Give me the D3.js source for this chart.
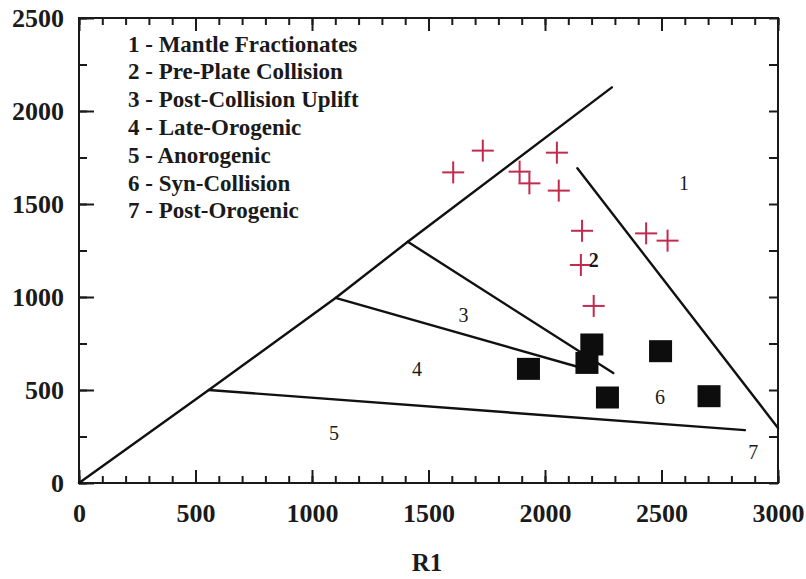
<!DOCTYPE html>
<html>
<head>
<meta charset="utf-8">
<script src="https://cdn.jsdelivr.net/npm/d3@7"></script>
<style>
  html, body { margin: 0; padding: 0; background: #ffffff; }
  svg { display: block; }
  text { font-family: "Liberation Serif", "Times New Roman", serif; font-weight: bold; fill: #1a1a1a; }
</style>
</head>
<body>
<svg id="chart" width="806" height="579"></svg>
<script>
// ---------- data ----------
const xTickValues = [0, 500, 1000, 1500, 2000, 2500, 3000];
const yTickValues = [0, 500, 1000, 1500, 2000, 2500];
const xAxisTitle = "R1";

const legendItems = [
  "1 - Mantle Fractionates",
  "2 - Pre-Plate Collision",
  "3 - Post-Collision Uplift",
  "4 - Late-Orogenic",
  "5 - Anorogenic",
  "6 - Syn-Collision",
  "7 - Post-Orogenic"
];

// red crosses
const crossR1 = [1606, 1733, 2051, 1891, 1933, 2059, 2159, 2434, 2526, 2154, 2209];
const crossR2 = [1670, 1787, 1776, 1674, 1611, 1572, 1356, 1342, 1303, 1172, 952];

// black squares
const squareR1 = [1929, 2201, 2180, 2268, 2496, 2704];
const squareR2 = [611, 742, 643, 457, 706, 464];

// field boundaries
const diagonalLine = [[0, 0], [557, 500], [1101, 995], [1411, 1297], [2287, 2127]];
const line45 = [[557, 500], [2858, 284]];
const line34 = [[1101, 995], [2215, 598]];
const line23 = [[1411, 1297], [2293, 591]];
const line12 = [[2139, 1692], [3000, 296]];

// field numbers
const fieldLabels = ["1", "2", "3", "4", "5", "6", "7"];
const fieldR1 = [2597, 2209, 1650, 1451, 1094, 2494, 2894];
const fieldR2 = [1611, 1199, 903, 611, 267, 461, 168];

// ---------- drawing ----------
const svg = d3.select("#chart");
const x = d3.scaleLinear().domain([0, 3000]).range([79, 778]);
const y = d3.scaleLinear().domain([0, 2500]).range([483, 18]);

const axisColor = "#1a1a1a";

function styleAxis(g) {
  g.select(".domain").remove();
  g.selectAll("line").attr("stroke", axisColor).attr("stroke-width", 2);
}

// minor ticks
svg.append("g").attr("transform", `translate(0,${y(0)})`)
  .call(d3.axisBottom(x).tickValues(d3.range(0, 3001, 100)).tickSize(-7).tickFormat(""))
  .call(styleAxis);
svg.append("g").attr("transform", `translate(0,${y(2500)})`)
  .call(d3.axisTop(x).tickValues(d3.range(0, 3001, 100)).tickSize(-7).tickFormat(""))
  .call(styleAxis);
svg.append("g").attr("transform", `translate(${x(0)},0)`)
  .call(d3.axisLeft(y).tickValues(d3.range(0, 2501, 250)).tickSize(-8).tickFormat(""))
  .call(styleAxis);
svg.append("g").attr("transform", `translate(${x(3000)},0)`)
  .call(d3.axisRight(y).tickValues(d3.range(0, 2501, 250)).tickSize(-9).tickFormat(""))
  .call(styleAxis);

// major ticks + labels
const xAxisG = svg.append("g").attr("transform", `translate(0,${y(0)})`)
  .call(d3.axisBottom(x).tickValues(xTickValues).tickSize(-13).tickPadding(21).tickFormat(d3.format("d")))
  .call(styleAxis);
xAxisG.selectAll("text").style("font-size", "26px").style("font-family", "Liberation Serif").style("font-weight", "bold").attr("fill", "#1a1a1a");

svg.append("g").attr("transform", `translate(0,${y(2500)})`)
  .call(d3.axisTop(x).tickValues(xTickValues).tickSize(-13).tickFormat(""))
  .call(styleAxis);

const yAxisG = svg.append("g").attr("transform", `translate(${x(0)},0)`)
  .call(d3.axisLeft(y).tickValues(yTickValues).tickSize(-15).tickPadding(15).tickFormat(d3.format("d")))
  .call(styleAxis);
yAxisG.selectAll("text").style("font-size", "26px").style("font-family", "Liberation Serif").style("font-weight", "bold").attr("fill", "#1a1a1a");

// frame
svg.append("rect")
  .attr("x", x(0)).attr("y", y(2500))
  .attr("width", x(3000) - x(0)).attr("height", y(0) - y(2500))
  .attr("fill", "none").attr("stroke", axisColor).attr("stroke-width", 2);

// boundary lines
const lineGen = d3.line().x(d => x(d[0])).y(d => y(d[1]));
[diagonalLine, line45, line34, line23, line12].forEach(pts => {
  svg.append("path").attr("d", lineGen(pts))
    .attr("fill", "none").attr("stroke", "#111").attr("stroke-width", 2.4)
    .attr("stroke-linecap", "round").attr("stroke-linejoin", "round");
});

// squares
const sq = 23;
svg.append("g").selectAll("rect").data(squareR1).join("rect")
  .attr("x", (d, i) => x(d) - sq / 2)
  .attr("y", (d, i) => y(squareR2[i]) - sq / 2)
  .attr("width", sq).attr("height", sq - 1)
  .attr("fill", "#0d0d0d");

// crosses
const arm = 11;
const crossG = svg.append("g").attr("stroke", "#c22a4e").attr("stroke-width", 2);
crossR1.forEach((d, i) => {
  const cx = x(d), cy = y(crossR2[i]);
  crossG.append("line").attr("x1", cx - arm).attr("x2", cx + arm).attr("y1", cy).attr("y2", cy);
  crossG.append("line").attr("x1", cx).attr("x2", cx).attr("y1", cy - arm).attr("y2", cy + arm);
});

// field numbers
svg.append("g").selectAll("text").data(fieldLabels).join("text")
  .attr("x", (d, i) => x(fieldR1[i]))
  .attr("y", (d, i) => y(fieldR2[i]))
  .attr("dy", "0.35em")
  .attr("text-anchor", "middle")
  .style("font-size", "20px")
  .style("font-weight", (d, i) => i === 1 ? "bold" : "normal")
  .text(d => d);

// legend
svg.append("g").selectAll("text").data(legendItems).join("text")
  .attr("x", 128)
  .attr("y", (d, i) => 43.5 + i * 27.8)
  .attr("dy", "0.35em")
  .style("font-size", "23px")
  .text(d => d);

// x-axis title
svg.append("text")
  .attr("x", 427).attr("y", 571)
  .attr("text-anchor", "middle")
  .style("font-size", "25px")
  .text(xAxisTitle);
</script>
</body>
</html>
